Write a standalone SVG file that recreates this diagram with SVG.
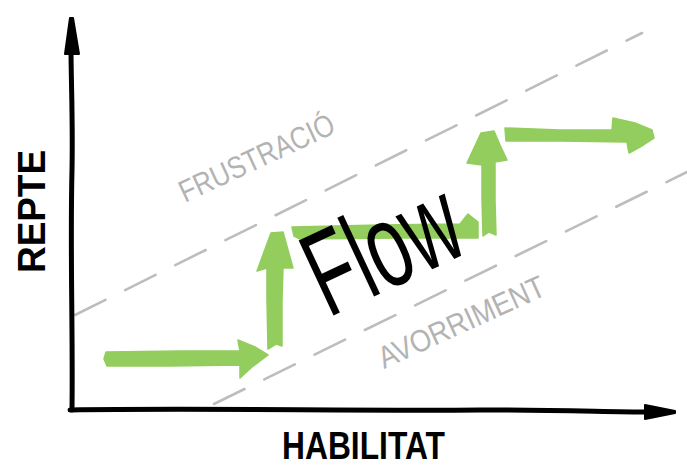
<svg xmlns="http://www.w3.org/2000/svg" width="687" height="468" viewBox="0 0 687 468">
<style>
.ax{fill:none;stroke:#000;stroke-width:5;stroke-linecap:round;stroke-linejoin:round}
.axh{fill:#000;stroke:#000;stroke-width:2;stroke-linejoin:round}
.dash{fill:none;stroke:#bdbdbd;stroke-width:2.6;stroke-dasharray:34 22;stroke-linecap:round}
.gr{fill:#92cd5e;stroke:#92cd5e;stroke-width:1.5;stroke-linejoin:round}
.zone{font-family:"Liberation Sans",Arial,sans-serif;font-size:31px;fill:#b3b3b3}
.lab{font-family:"Liberation Sans",Arial,sans-serif;font-weight:bold;font-size:39px;fill:#000}
.flow{font-family:"Liberation Sans",Arial,sans-serif;font-size:120px;fill:#000}
</style>
<rect width="687" height="468" fill="#fff"/>
<g id="zones">
  <path class="dash" d="M75,315 L642,33"/>
  <path class="dash" d="M214,404 L687,172"/>
  <text class="zone" transform="translate(185,203) rotate(-25)" textLength="168" lengthAdjust="spacingAndGlyphs">FRUSTRACIÓ</text>
  <text class="zone" transform="translate(384,369) rotate(-24.5)" textLength="180" lengthAdjust="spacingAndGlyphs">AVORRIMENT</text>
</g>
<g id="axes">
  <path class="ax" d="M72,410 C73,330 70,250 72,170 C73,120 71,80 71,48"/>
  <path class="axh" d="M65,54 L70,18 L73,18 L79,54 Z"/>
  <path class="ax" d="M70,410 C200,408 350,411 480,410 C560,410 610,412 648,412"/>
  <path class="axh" d="M645,405 L675,411 L675,413 L645,419 Z"/>
  <text class="lab" transform="translate(45,273) rotate(-90)" textLength="123" lengthAdjust="spacingAndGlyphs">REPTE</text>
  <text class="lab" x="282" y="459" textLength="163" lengthAdjust="spacingAndGlyphs">HABILITAT</text>
</g>
<g id="path-arrows">
  <g id="arrow1"><path class="gr" d="M106,352 L180,351 L240,351 L238,340 L255,347 L268,355 L252,367 L240,378 L240,365 L170,366 L107,366 L104,359 Z"/></g>
  <g id="arrow2"><path class="gr" d="M268,349 L267,300 L267,268 L257,271 L264,252 L271,233 L283,232 L288,250 L293,268 L283,268 L282,300 L282,346 L276,344 Z"/></g>
  <g id="arrow3"><path class="gr" d="M292,227 L380,225 L460,224 L468,214 L478,222 L478,238 L400,238 L300,239 L294,236 Z"/></g>
  <g id="arrow4"><path class="gr" d="M483,236 L482,200 L482,165 L467,163 L474,148 L481,133 L494,131 L500,145 L507,160 L495,162 L495,200 L496,235 L489,232 Z"/></g>
  <g id="arrow5"><path class="gr" d="M505,128 L560,130 L612,130 L613,118 L635,123 L652,130 L654,138 L640,147 L629,153 L627,142 L560,141 L506,141 Z"/></g>
</g>
<g id="flow-label">
  <text class="flow" transform="translate(328,318) rotate(-25)" textLength="158" lengthAdjust="spacingAndGlyphs">Flow</text>
</g>
</svg>
